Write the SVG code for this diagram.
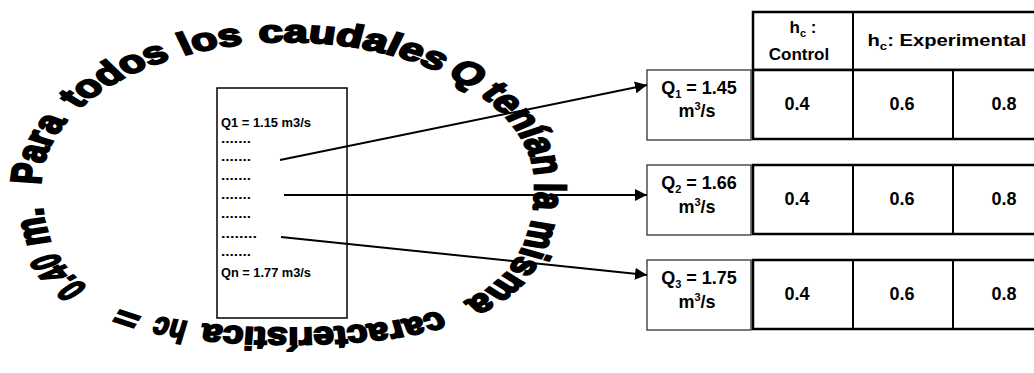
<svg xmlns="http://www.w3.org/2000/svg" width="1034" height="373" viewBox="0 0 1034 373">
<defs>
<style>
.arc{font-family:"Liberation Sans",Arial,sans-serif;font-weight:bold;font-size:33px;fill:#000;stroke:#000;stroke-width:2.1px;text-anchor:middle}
.src{font-family:"Liberation Sans",Arial,sans-serif;font-weight:bold;font-size:12px;fill:#000}
.tb{font-family:"Liberation Sans",Arial,sans-serif;font-weight:bold;font-size:18px;fill:#000}
.th{font-family:"Liberation Sans",Arial,sans-serif;font-weight:bold;font-size:17px;fill:#000}
.lbl{fill:#fff;stroke:#222;stroke-width:1.2}
.cell{fill:#fff;stroke:#000;stroke-width:2.5}
.div{stroke:#000;stroke-width:2}
.conn{stroke:#000;stroke-width:2;fill:none}
</style>
<marker id="ah" viewBox="0 0 10 10" refX="10" refY="5" markerWidth="6" markerHeight="6" markerUnits="strokeWidth" orient="auto">
<path d="M0,0 L10,5 L0,10 z" fill="#000"/>
</marker>
<path id="ell" d="M -190 0 A 190 150.5 0 0 1 190 0 C 190 106.9 134.9 150.5 0 150.5 C -134.9 150.5 -190 106.9 -190 0"/>
</defs>
<rect width="1034" height="373" fill="#fff"/>

<g id="curved-text" transform="translate(288 185) scale(1.3 0.95)">
<text class="arc"><textPath href="#ell" startOffset="36">Para</textPath></text>
<text class="arc"><textPath href="#ell" startOffset="131">todos</textPath></text>
<text class="arc"><textPath href="#ell" startOffset="210">los</textPath></text>
<text class="arc"><textPath href="#ell" startOffset="318" textLength="144" lengthAdjust="spacingAndGlyphs">caudales</textPath></text>
<text class="arc"><textPath href="#ell" startOffset="409">Q</textPath></text>
<text class="arc"><textPath href="#ell" startOffset="478">tenían</textPath></text>
<text class="arc"><textPath href="#ell" startOffset="548">la</textPath></text>
<text class="arc"><textPath href="#ell" startOffset="625">misma</textPath></text>
<text class="arc"><textPath href="#ell" startOffset="790" textLength="184" lengthAdjust="spacingAndGlyphs">característica</textPath></text>
<text class="arc"><textPath href="#ell" startOffset="906" textLength="25" lengthAdjust="spacingAndGlyphs">hc</textPath></text>
<text class="arc"><textPath href="#ell" startOffset="939">=</textPath></text>
<text class="arc"><textPath href="#ell" startOffset="1003" textLength="46" lengthAdjust="spacingAndGlyphs">0.40</textPath></text>
<text class="arc"><textPath href="#ell" startOffset="1055">m.</textPath></text>
</g>

<g id="source-box">
<rect x="217" y="88" width="130" height="230" fill="#fff" stroke="#000" stroke-width="1.5"/>
<text class="src" x="221" y="127" textLength="90" lengthAdjust="spacingAndGlyphs">Q1 = 1.15 m3/s</text>
<text class="src" x="221" y="143" textLength="30" lengthAdjust="spacingAndGlyphs">.......</text>
<text class="src" x="221" y="161" textLength="30" lengthAdjust="spacingAndGlyphs">.......</text>
<text class="src" x="221" y="180" textLength="30" lengthAdjust="spacingAndGlyphs">.......</text>
<text class="src" x="221" y="199" textLength="30" lengthAdjust="spacingAndGlyphs">.......</text>
<text class="src" x="221" y="218" textLength="30" lengthAdjust="spacingAndGlyphs">.......</text>
<text class="src" x="221" y="238" textLength="36" lengthAdjust="spacingAndGlyphs">........</text>
<text class="src" x="221" y="256" textLength="30" lengthAdjust="spacingAndGlyphs">.......</text>
<text class="src" x="221" y="277" textLength="90" lengthAdjust="spacingAndGlyphs">Qn = 1.77 m3/s</text>
</g>

<g id="header">
<rect class="cell" x="753" y="12" width="300" height="58"/>
<line class="div" x1="853" y1="12" x2="853" y2="70"/>
<text class="th" x="803" y="33" text-anchor="middle">h<tspan font-size="11" dy="4">c</tspan><tspan dy="-4"> :</tspan></text>
<text class="th" x="799" y="60" text-anchor="middle">Control</text>
<text class="th" x="947" y="46" text-anchor="middle" textLength="159" lengthAdjust="spacingAndGlyphs">h<tspan font-size="11" dy="4">c</tspan><tspan dy="-4">: Experimental</tspan></text>
</g>

<g id="row-q1">
<rect class="lbl" x="647" y="70" width="104" height="70"/>
<text class="tb" x="699" y="94" text-anchor="middle">Q<tspan font-size="11" dy="4">1</tspan><tspan dy="-4"> = 1.45</tspan></text>
<text class="tb" x="697" y="117" text-anchor="middle">m<tspan font-size="11" dy="-7">3</tspan><tspan dy="7">/s</tspan></text>
<rect class="cell" x="753" y="70" width="300" height="69"/>
<line class="div" x1="853" y1="70" x2="853" y2="139"/>
<line class="div" x1="953" y1="70" x2="953" y2="139"/>
<text class="tb" x="797" y="110" text-anchor="middle">0.4</text>
<text class="tb" x="902" y="110" text-anchor="middle">0.6</text>
<text class="tb" x="1004" y="110" text-anchor="middle">0.8</text>
</g>

<g id="row-q2">
<rect class="lbl" x="647" y="165" width="104" height="70"/>
<text class="tb" x="699" y="189" text-anchor="middle">Q<tspan font-size="11" dy="4">2</tspan><tspan dy="-4"> = 1.66</tspan></text>
<text class="tb" x="697" y="213" text-anchor="middle">m<tspan font-size="11" dy="-7">3</tspan><tspan dy="7">/s</tspan></text>
<rect class="cell" x="753" y="165" width="300" height="69"/>
<line class="div" x1="853" y1="165" x2="853" y2="234"/>
<line class="div" x1="953" y1="165" x2="953" y2="234"/>
<text class="tb" x="797" y="205" text-anchor="middle">0.4</text>
<text class="tb" x="902" y="205" text-anchor="middle">0.6</text>
<text class="tb" x="1004" y="205" text-anchor="middle">0.8</text>
</g>

<g id="row-q3">
<rect class="lbl" x="647" y="260" width="104" height="70"/>
<text class="tb" x="699" y="284" text-anchor="middle">Q<tspan font-size="11" dy="4">3</tspan><tspan dy="-4"> = 1.75</tspan></text>
<text class="tb" x="697" y="308" text-anchor="middle">m<tspan font-size="11" dy="-7">3</tspan><tspan dy="7">/s</tspan></text>
<rect class="cell" x="753" y="260" width="300" height="69"/>
<line class="div" x1="853" y1="260" x2="853" y2="329"/>
<line class="div" x1="953" y1="260" x2="953" y2="329"/>
<text class="tb" x="797" y="300" text-anchor="middle">0.4</text>
<text class="tb" x="902" y="300" text-anchor="middle">0.6</text>
<text class="tb" x="1004" y="300" text-anchor="middle">0.8</text>
</g>

<g id="connectors">
<line class="conn" x1="280" y1="160" x2="647" y2="85" marker-end="url(#ah)"/>
<line class="conn" x1="284" y1="195" x2="647" y2="195" marker-end="url(#ah)"/>
<line class="conn" x1="281" y1="237" x2="647" y2="275" marker-end="url(#ah)"/>
</g>
</svg>
